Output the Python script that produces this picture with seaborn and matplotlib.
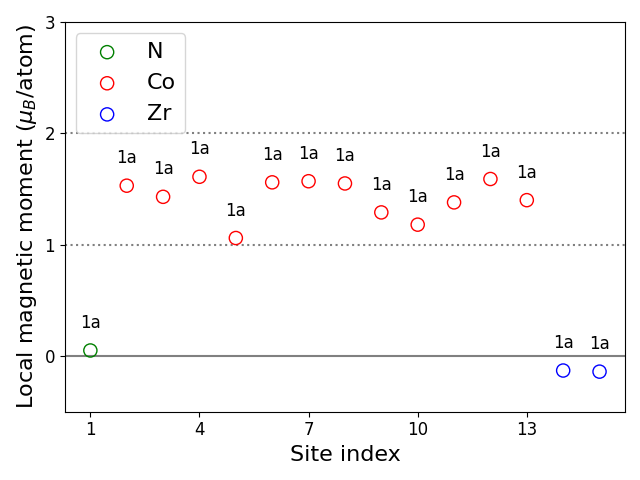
import matplotlib
matplotlib.use("Agg")
import matplotlib.pyplot as plt
import seaborn as sns
import pandas as pd

site_index = list(range(1, 16))
elements = ["N"] + ["Co"] * 12 + ["Zr"] * 2
moments = [0.05, 1.53, 1.43, 1.61, 1.06, 1.56, 1.57, 1.55, 1.29, 1.18, 1.38, 1.59, 1.40, -0.13, -0.14]
wyckoff = ["1a"] * 15
element_colors = {"N": "green", "Co": "red", "Zr": "blue"}

df = pd.DataFrame({"site": site_index, "element": elements, "moment": moments, "label": wyckoff})

fig, ax = plt.subplots(figsize=(6.4, 4.8), dpi=100)
for el in ["N", "Co", "Zr"]:
    sub = df[df["element"] == el]
    sns.scatterplot(data=sub, x="site", y="moment", ax=ax, s=90, marker="o",
                    facecolors="none", edgecolor=element_colors[el], linewidth=1,
                    label=el)

for _, r in df.iterrows():
    ax.text(r["site"], r["moment"] + 0.165, r["label"], ha="center", va="bottom", fontsize=12)

ax.axhline(0, color="gray", lw=1.5, zorder=0)
ax.axhline(1, color="gray", lw=1.5, ls=":", zorder=0)
ax.axhline(2, color="gray", lw=1.5, ls=":", zorder=0)

ax.set_xlim(0.3, 15.7)
ax.set_ylim(-0.5, 3)
ax.set_xticks([1, 4, 7, 10, 13])
ax.set_yticks([0, 1, 2, 3])
ax.tick_params(labelsize=12)
ax.set_xlabel("Site index", fontsize=16)
ax.set_ylabel(r"Local magnetic moment ($\mu_B$/atom)", fontsize=16)
ax.legend(loc="upper left", fontsize=16)
fig.tight_layout()
fig.savefig("out.png", dpi=100)
